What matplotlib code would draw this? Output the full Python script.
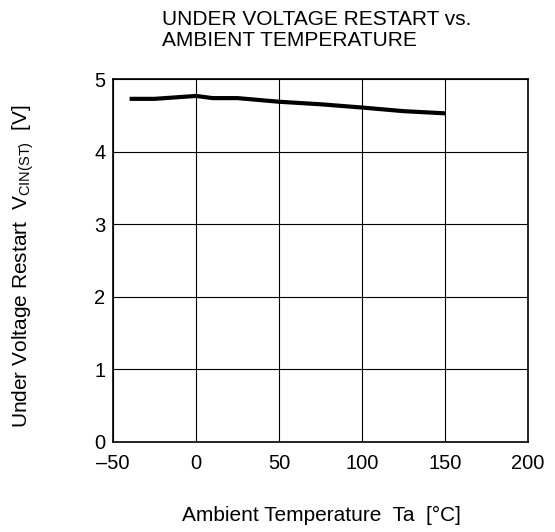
import matplotlib
matplotlib.use("Agg")
import matplotlib.pyplot as plt

# Ambient temperature [°C] vs under voltage restart V_CIN(ST) [V]
temperature = [-40, -25, 0, 10, 25, 50, 75, 100, 125, 150]
restart_voltage = [4.73, 4.73, 4.77, 4.74, 4.74, 4.69, 4.655, 4.61, 4.56, 4.53]

x_ticks = [-50, 0, 50, 100, 150, 200]
x_tick_labels = ["\u201350", "0", "50", "100", "150", "200"]
y_ticks = [0, 1, 2, 3, 4, 5]

plt.rcParams["font.family"] = ["Liberation Sans", "DejaVu Sans"]
plt.rcParams["mathtext.default"] = "regular"

fig = plt.figure(figsize=(5.55, 5.32), dpi=100)
ax = fig.add_axes([0.2036, 0.1697, 0.748, 0.6813])

ax.plot(temperature, restart_voltage, color="black", linewidth=3, solid_capstyle="butt")

ax.set_xlim(-50, 200)
ax.set_ylim(0, 5)
ax.set_xticks(x_ticks)
ax.set_xticklabels(x_tick_labels)
ax.set_yticks(y_ticks)
ax.tick_params(length=0, labelsize=14.5, colors="black")
ax.tick_params(axis="x", pad=8.5)
ax.tick_params(axis="y", pad=5.5)
ax.grid(True, color="black", linewidth=0.8)
ax.set_axisbelow(True)
for s in ax.spines.values():
    s.set_linewidth(1.2)
    s.set_color("black")

fig.text(162 / 555, 1 - 10 / 532, "UNDER VOLTAGE RESTART vs.\nAMBIENT TEMPERATURE",
         ha="left", va="top", fontsize=15, linespacing=1.15)
fig.text(321 / 555, 1 - 515 / 532, "Ambient Temperature  Ta  [\u00b0C]",
         ha="center", va="center", fontsize=15)
fig.text(23 / 555, 1 - 266 / 532, r"Under Voltage Restart  V$_{CIN(ST)}$  [V]",
         ha="center", va="center", rotation=90, fontsize=15)

fig.savefig("out.png", dpi=100)
